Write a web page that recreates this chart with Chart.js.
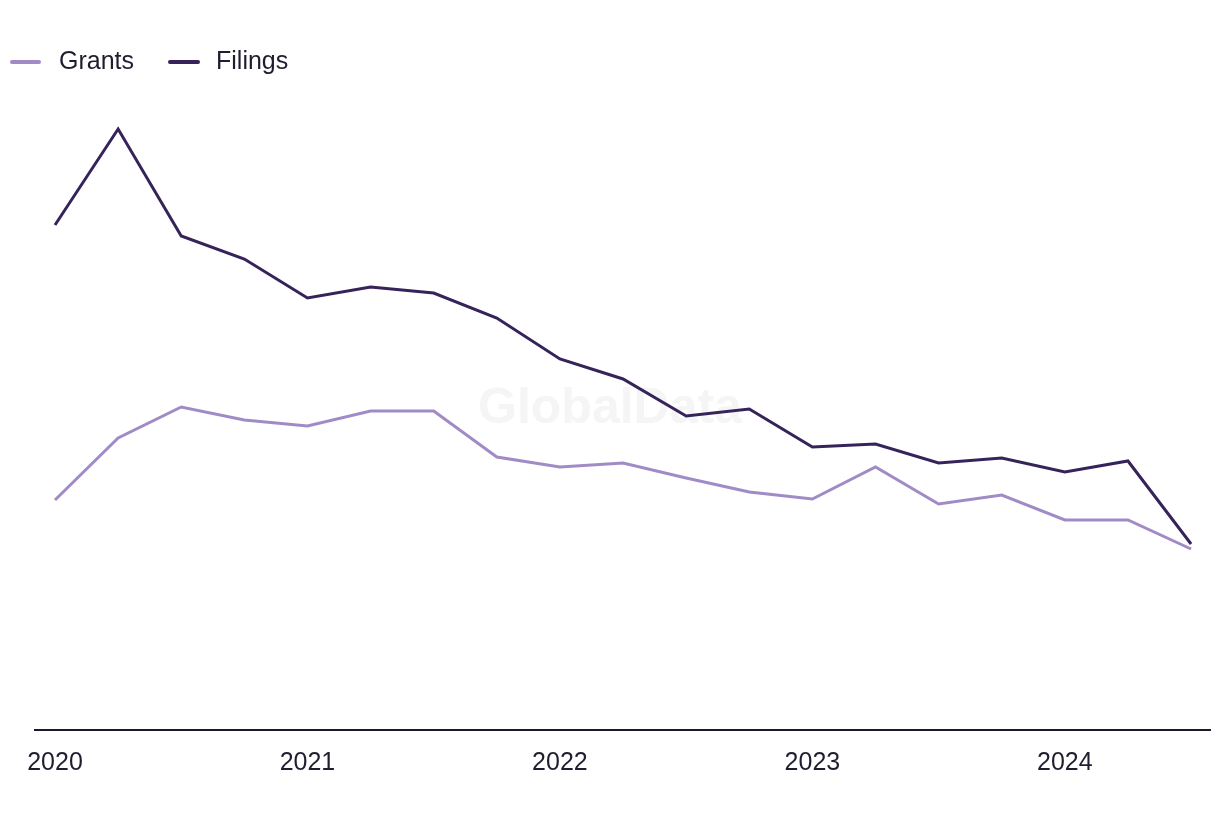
<!DOCTYPE html>
<html>
<head>
<meta charset="utf-8">
<script src="https://cdn.jsdelivr.net/npm/chart.js@4.4.1/dist/chart.umd.min.js"></script>
<style>
  html, body { margin: 0; padding: 0; background: #ffffff; }
  #wrap { width: 1220px; height: 820px; position: relative; }
</style>
</head>
<body>
<div id="wrap"><canvas id="c" width="1220" height="820"></canvas></div>
<script>
// Quarterly periods, 2020 Q1 .. 2024 Q3
const quarters = ["2020 Q1","2020 Q2","2020 Q3","2020 Q4","2021 Q1","2021 Q2","2021 Q3","2021 Q4",
                  "2022 Q1","2022 Q2","2022 Q3","2022 Q4","2023 Q1","2023 Q2","2023 Q3","2023 Q4",
                  "2024 Q1","2024 Q2","2024 Q3"];
const yearTickIndex = [0, 4, 8, 12, 16];
const yearTickLabels = ["2020", "2021", "2022", "2023", "2024"];
const grants  = [230, 292, 323, 310, 304, 319, 319, 273, 263, 267, 252, 238, 231, 263, 226, 235, 210, 210, 181];
const filings = [505, 601, 494, 471, 432, 443, 437, 412, 371, 351, 314, 321, 283, 286, 267, 272, 258, 269, 186];
const seriesNames = ["Grants", "Filings"];

const COL_GRANTS = "#a18bc6";
const COL_FILINGS = "#35235a";
const TEXT_COL = "#1e1e30";
const FONT = "'Liberation Sans', Arial, sans-serif";

const legendPlugin = {
  id: 'customLegend',
  afterDraw(chart) {
    const ctx = chart.ctx;
    const items = [
      { x0: 10, x1: 41, tx: 59 },
      { x0: 168, x1: 200, tx: 216 }
    ];
    ctx.save();
    chart.data.datasets.forEach((ds, i) => {
      const it = items[i];
      ctx.strokeStyle = ds.borderColor;
      ctx.lineWidth = 4;
      ctx.lineCap = 'round';
      ctx.beginPath();
      ctx.moveTo(it.x0 + 2, 62);
      ctx.lineTo(it.x1 - 2, 62);
      ctx.stroke();
      ctx.fillStyle = TEXT_COL;
      ctx.font = "25px " + FONT;
      ctx.textBaseline = 'middle';
      ctx.textAlign = 'left';
      ctx.fillText(ds.label, it.tx, 62);
    });
    ctx.restore();
  }
};

const watermarkPlugin = {
  id: 'watermark',
  beforeDatasetsDraw(chart) {
    const ctx = chart.ctx;
    ctx.save();
    ctx.fillStyle = "#f5f5f6";
    ctx.font = "bold 50px " + FONT;
    ctx.textAlign = 'center';
    ctx.textBaseline = 'middle';
    ctx.fillText("GlobalData", 610, 409);
    ctx.restore();
  }
};

new Chart(document.getElementById('c'), {
  type: 'line',
  data: {
    datasets: [
      { label: seriesNames[0], data: grants.map((v, i) => ({ x: i, y: v })),
        borderColor: COL_GRANTS, backgroundColor: COL_GRANTS, borderWidth: 3,
        pointRadius: 0, tension: 0, fill: false },
      { label: seriesNames[1], data: filings.map((v, i) => ({ x: i, y: v })),
        borderColor: COL_FILINGS, backgroundColor: COL_FILINGS, borderWidth: 3,
        pointRadius: 0, tension: 0, fill: false }
    ]
  },
  options: {
    responsive: false,
    animation: false,
    devicePixelRatio: 1,
    layout: { padding: { left: 35, right: 10, top: 100, bottom: 0 } },
    plugins: { legend: { display: false }, tooltip: { enabled: false } },
    scales: {
      x: {
        type: 'linear',
        min: -0.317,
        max: 18.30,
        grid: { display: false, drawTicks: false },
        border: { display: true, color: '#1a1a2c', width: 2 },
        afterBuildTicks: (s) => { s.ticks = yearTickIndex.map(v => ({ value: v })); },
        afterFit: (s) => { s.height = 90; },
        ticks: {
          autoSkip: false,
          maxRotation: 0,
          padding: 18,
          color: TEXT_COL,
          font: { family: FONT, size: 25 },
          callback: (v) => { const k = yearTickIndex.indexOf(v); return k >= 0 ? yearTickLabels[k] : ''; }
        }
      },
      y: {
        display: false,
        min: 0,
        max: 630
      }
    }
  },
  plugins: [watermarkPlugin, legendPlugin]
});
</script>
</body>
</html>
